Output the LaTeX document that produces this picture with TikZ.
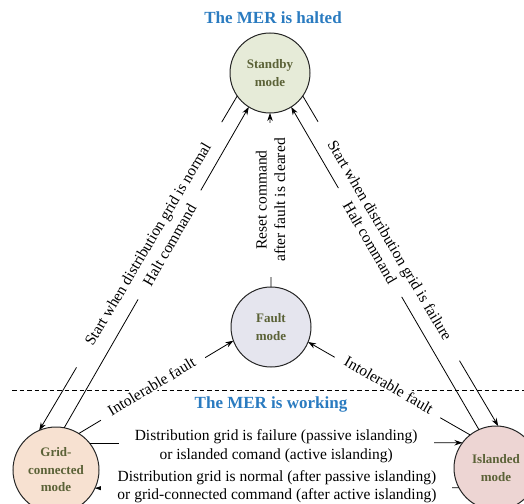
\documentclass[tikz,border=0pt]{standalone}
\usepackage{fontspec}
\setmainfont{Liberation Serif}
\usetikzlibrary{arrows.meta}
\definecolor{stdfill}{HTML}{E6EBD8}
\definecolor{faultfill}{HTML}{E5E5EE}
\definecolor{gridfill}{HTML}{F7E1D1}
\definecolor{islfill}{HTML}{EDD5D3}
\definecolor{nodetext}{HTML}{5B6237}
\definecolor{titleblue}{HTML}{2A7BC0}
\begin{document}
\begin{tikzpicture}[x=1pt,y=-1pt,
  state/.style={circle,draw=black!85,line width=1pt,inner sep=0pt,outer sep=0pt,
    font=\fontsize{13}{17.5}\selectfont\bfseries,text=nodetext,align=center},
  conn/.style={line width=0.8pt,-{Stealth[length=8pt,width=5.5pt]}},
  lbl/.style={fill=white,font=\fontsize{15.5}{18.5}\selectfont,inner ysep=1pt,align=center},
  title/.style={font=\fontsize{17}{20}\selectfont\bfseries,text=titleblue}]
\useasboundingbox (0,0) rectangle (524,503);
\clip (0,0) rectangle (524,503);

\node[title] (t1) at (273,18) {The MER is halted};
\coordinate (dl) at (12,390);
\coordinate (dr) at (524,390);
\draw[line width=0.8pt,dash pattern=on 4.5pt off 3pt] (dl) -- (dr);
\node[title] (t2) at (271,404) {The MER is working};

\node[state,fill=stdfill,minimum size=80pt] (std) at (270,73) {Standby\\mode};
\node[state,fill=faultfill,minimum size=80pt] (fault) at (271,327) {Fault\\mode};
\node[state,fill=gridfill,minimum size=86pt] (grid) at (56,470) {Grid-\\connected\\mode};
\node[state,fill=islfill,minimum size=84pt] (isl) at (496,468) {Islanded\\mode};

% standby <-> grid-connected
\draw[conn] (std.215) -- (grid.113)
  node[lbl,pos=0.445,sloped,inner xsep=26pt] {Start when distribution grid is normal};
\draw[conn] (grid.79.5) -- (std.238)
  node[lbl,pos=0.57,sloped,inner xsep=17pt] {Halt command};

% standby <-> islanded
\draw[conn] (std.325) -- (isl.87)
  node[lbl,pos=0.44,sloped,inner xsep=24pt] {Start when distribution grid is failure};
\draw[conn] (isl.114) -- (std.302)
  node[lbl,pos=0.58,sloped,inner xsep=17pt] {Halt command};

% fault -> standby
\draw[conn] (fault.90) -- (std.270)
  node[lbl,midway,rotate=90,inner xsep=15pt] {Reset command\\after fault is cleared};

% -> fault
\draw[conn] (grid.58) -- (fault.200)
  node[lbl,pos=0.48,sloped,inner xsep=11pt,yshift=3pt] {Intolerable fault};
\draw[conn] (isl.128) -- (fault.338)
  node[lbl,pos=0.51,sloped,inner xsep=11pt,yshift=3pt] {Intolerable fault};

% horizontal transitions
\draw[conn] (grid.38.9) -- (isl.143.5)
  node[lbl,midway,inner xsep=16pt,yshift=-3pt] {Distribution grid is failure (passive islanding)\\or islanded comand (active islanding)};
\draw[conn] (isl.208.4) -- (grid.335.3)
  node[lbl,midway,inner xsep=16pt,yshift=1pt] {Distribution grid is normal (after passive islanding)\\or grid-connected command (after active islanding)};
\end{tikzpicture}
\end{document}
